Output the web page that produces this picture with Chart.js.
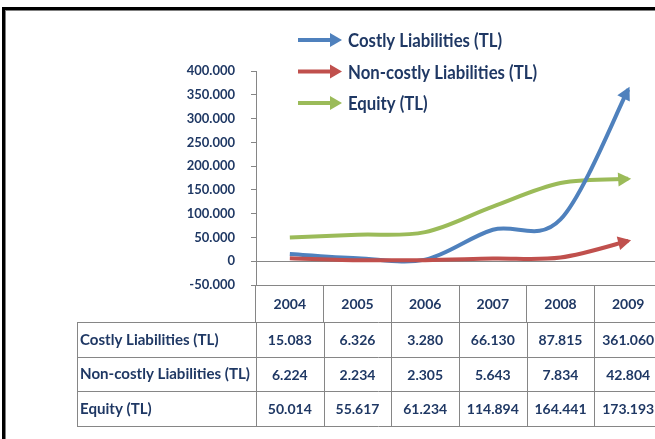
<!DOCTYPE html>
<html>
<head>
<meta charset="utf-8">
<script src="https://cdn.jsdelivr.net/npm/chart.js@4.4.1/dist/chart.umd.min.js"></script>
<style>
  html, body { margin: 0; padding: 0; background: #fff; overflow: hidden; width: 655px; height: 439px; }
  #frame { position: absolute; left: 2px; top: 7px; width: 700px; height: 460px;
           border-top: 3px solid #000; border-left: 3px solid #000; box-shadow: inset 1px 1px 0 #7f7f7f; }
  #wrap { position: absolute; left: 0; top: 0; width: 680px; height: 439px; }
</style>
</head>
<body>
<div id="frame"></div>
<div id="wrap"><canvas id="lineChart" width="680" height="439"></canvas></div>
<script>
// data (values in TL)
var years = ['2004', '2005', '2006', '2007', '2008', '2009'];
var costly = [15083, 6326, 3280, 66130, 87815, 361060];
var nonCostly = [6224, 2234, 2305, 5643, 7834, 42804];
var equity = [50014, 55617, 61234, 114894, 164441, 173193];
var seriesNames = ['Costly Liabilities (TL)', 'Non-costly Liabilities (TL)', 'Equity (TL)'];
var seriesColors = ['#4F81BD', '#C0504D', '#9BBB59'];
var yMin = -50000, yMax = 400000, yStep = 50000;

var NAVY = '#1F3864';
var GRID = '#868686';

function fmt(v) {
    return String(Math.round(v)).replace(/\B(?=(\d{3})+(?!\d))/g, '.');
}

function drawArrow(ctx, x, y, angle, len, half, color) {
    ctx.save();
    ctx.translate(x, y);
    ctx.rotate(angle);
    ctx.fillStyle = color;
    ctx.beginPath();
    ctx.moveTo(0, 0);
    ctx.lineTo(-len, -half);
    ctx.lineTo(-len, half);
    ctx.closePath();
    ctx.fill();
    ctx.restore();
}

function squeezed(ctx, text, x, y, sx) {
    ctx.save();
    ctx.translate(x, y);
    ctx.scale(sx, 1);
    ctx.fillText(text, 0, 0);
    ctx.restore();
}

// excel-like smoothing (catmull-rom control points on the library's own points)
var excelSmooth = {
    id: 'excelSmooth',
    beforeDatasetsDraw: function(chart) {
        chart.data.datasets.forEach(function(ds, i) {
            var meta = chart.getDatasetMeta(i);
            meta.dataset.updateControlPoints(chart.chartArea, 'x');
            var pts = meta.data, n = pts.length;
            for (var k = 0; k < n; k++) {
                var prev = pts[Math.max(k - 1, 0)], next = pts[Math.min(k + 1, n - 1)];
                var dx = (next.x - prev.x) / 6, dy = (next.y - prev.y) / 6;
                pts[k].cp1x = pts[k].x - dx; pts[k].cp1y = pts[k].y - dy;
                pts[k].cp2x = pts[k].x + dx; pts[k].cp2y = pts[k].y + dy;
            }
        });
    }
};

// arrow heads at the end of each line
var arrowHeads = {
    id: 'arrowHeads',
    afterDatasetsDraw: function(chart) {
        var ctx = chart.ctx;
        chart.data.datasets.forEach(function(ds, i) {
            var pts = chart.getDatasetMeta(i).data;
            var p = pts[pts.length - 1], q = pts[pts.length - 2];
            var fx = (p.cp1x !== undefined && p.cp1x !== p.x) ? p.cp1x : q.x;
            var fy = (p.cp1y !== undefined && p.cp1x !== p.x) ? p.cp1y : q.y;
            var a = Math.atan2(p.y - fy, p.x - fx);
            drawArrow(ctx, p.x + Math.cos(a) * 3, p.y + Math.sin(a) * 3, a, 13, 7, ds.borderColor);
        });
    }
};

// legend with arrows, drawn over the plot
var arrowLegend = {
    id: 'arrowLegend',
    afterDraw: function(chart) {
        var ctx = chart.ctx;
        ctx.save();
        ctx.font = 'bold 19px Lato';
        ctx.textBaseline = 'middle';
        ctx.textAlign = 'left';
        var widest = 0;
        chart.data.datasets.forEach(function(ds) { widest = Math.max(widest, ctx.measureText(ds.label).width); });
        var sx = 189 / widest;
        chart.data.datasets.forEach(function(ds, i) {
            var y = 40 + i * 31.5;
            ctx.strokeStyle = ds.borderColor;
            ctx.lineWidth = 4;
            ctx.beginPath();
            ctx.moveTo(298, y);
            ctx.lineTo(332, y);
            ctx.stroke();
            drawArrow(ctx, 342, y, 0, 12, 7, ds.borderColor);
            ctx.fillStyle = NAVY;
            squeezed(ctx, ds.label, 348, y + 1, sx);
        });
        ctx.restore();
    }
};

// data table under the plot
var dataTable = {
    id: 'dataTable',
    afterDraw: function(chart) {
        var ctx = chart.ctx, xs = chart.scales.x, area = chart.chartArea;
        var step = xs.getPixelForValue(1) - xs.getPixelForValue(0);
        var headTop = area.bottom, top = area.bottom + 37, rowH = 34.7, left = 77;
        var right = chart.width;
        var rows = chart.data.datasets.length;
        ctx.save();
        ctx.strokeStyle = GRID;
        ctx.lineWidth = 1;
        ctx.beginPath();
        for (var r = 0; r <= rows; r++) {
            var y = Math.round(top + r * rowH) + 0.5;
            ctx.moveTo(left, y);
            ctx.lineTo(right, y);
        }
        var cols = [left, area.left];
        chart.data.labels.forEach(function(l, i) { cols.push(xs.getPixelForValue(i) + step / 2); });
        cols.forEach(function(cx) {
            var x = Math.round(cx) + 0.5;
            ctx.moveTo(x, Math.round(top) + 0.5);
            ctx.lineTo(x, Math.round(top + rows * rowH) + 0.5);
        });
        ctx.stroke();

        ctx.fillStyle = NAVY;
        ctx.textBaseline = 'middle';
        ctx.textAlign = 'center';
        ctx.font = 'bold 14px Lato';
        chart.data.labels.forEach(function(l, i) {
            ctx.fillText(l, xs.getPixelForValue(i), (headTop + top) / 2 + 1);
        });
        chart.data.datasets.forEach(function(ds, r) {
            var cy = top + r * rowH + rowH / 2;
            ds.data.forEach(function(v, i) {
                ctx.fillText(fmt(v), xs.getPixelForValue(i), cy + 1);
            });
        });
        ctx.textAlign = 'left';
        ctx.font = 'bold 16px Lato';
        var widest = 0;
        chart.data.datasets.forEach(function(ds) { widest = Math.max(widest, ctx.measureText(ds.label).width); });
        var sx = 170 / widest;
        chart.data.datasets.forEach(function(ds, r) {
            squeezed(ctx, ds.label, left + 3, top + r * rowH + rowH / 2, sx);
        });
        ctx.restore();
    }
};

var ctxL = document.getElementById('lineChart').getContext('2d');
new Chart(ctxL, {
    type: 'line',
    data: {
        labels: years,
        datasets: [
            { label: seriesNames[0], data: costly, borderColor: seriesColors[0], order: 2 },
            { label: seriesNames[1], data: nonCostly, borderColor: seriesColors[1], order: 1 },
            { label: seriesNames[2], data: equity, borderColor: seriesColors[2], order: 3 }
        ]
    },
    options: {
        responsive: false,
        animation: false,
        layout: { padding: { top: 71, right: 18, bottom: 117, left: 0 } },
        elements: {
            line: { borderWidth: 4, tension: 0.4, fill: false },
            point: { radius: 0, hoverRadius: 0 }
        },
        plugins: {
            legend: { display: false },
            tooltip: { enabled: false }
        },
        scales: {
            x: {
                offset: true,
                afterFit: function(s) { s.height = 37; },
                grid: { offset: true, drawOnChartArea: false, drawTicks: true, tickLength: 37, color: GRID },
                border: { color: GRID },
                ticks: { display: false }
            },
            y: {
                min: yMin,
                max: yMax,
                afterFit: function(s) { s.width = 256; },
                grid: {
                    color: function(c) { return c.tick && c.tick.value === 0 ? GRID : 'rgba(0,0,0,0)'; },
                    tickColor: GRID,
                    tickLength: 5
                },
                border: { color: GRID },
                ticks: {
                    stepSize: yStep,
                    padding: 16,
                    color: NAVY,
                    font: { family: 'Lato', size: 13, weight: 'bold' },
                    callback: function(v) { return fmt(v); }
                }
            }
        }
    },
    plugins: [excelSmooth, arrowHeads, arrowLegend, dataTable]
});
</script>
</body>
</html>
